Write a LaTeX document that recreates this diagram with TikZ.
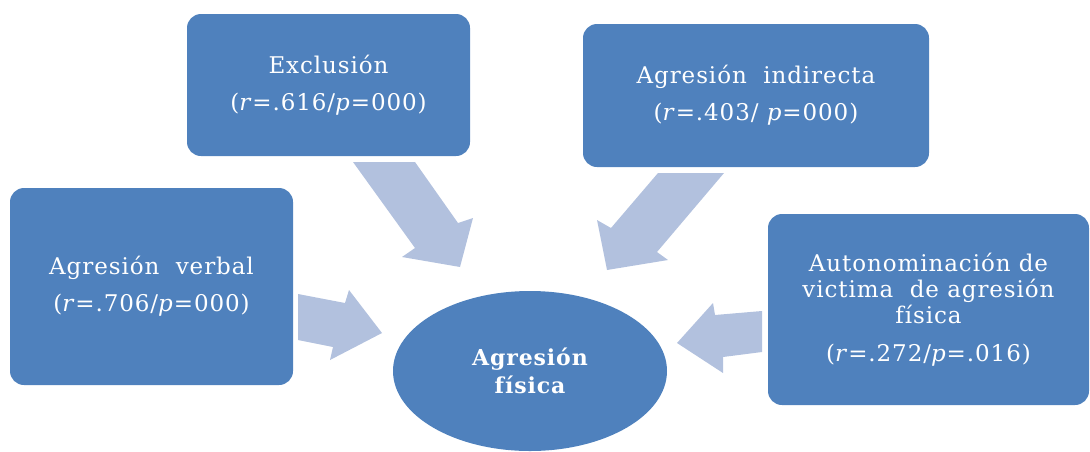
\documentclass[tikz,border=0pt]{standalone}
\usepackage{fontspec}
\usetikzlibrary{shapes.geometric}
\setmainfont{DejaVu Serif}
\newfontfamily\labfont[LetterSpace=4]{DejaVu Serif}
\definecolor{boxblue}{RGB}{79,129,189}
\definecolor{arrowblue}{RGB}{178,193,222}
\tikzset{
  box/.style={fill=boxblue, rounded corners=14pt, text=white, align=center, inner sep=0pt},
  blockarrow/.style={fill=arrowblue, draw=none},
}
\begin{document}
\begin{tikzpicture}[x=1pt,y=-1pt]
\useasboundingbox (0,0) rectangle (1090,451);
% block arrows
\fill[blockarrow] (353,162) -- (415,162) -- (458,223) -- (473,218) -- (460,267) -- (402,257) -- (415,248) -- cycle;
\fill[blockarrow] (658,173) -- (724,173) -- (657,252) -- (668,260) -- (607,270) -- (597,220) -- (611,228) -- cycle;
\fill[blockarrow] (762,311) -- (762,352) -- (723,357) -- (723,373) -- (677,343) -- (713,303) -- (715,315) -- cycle;
\fill[blockarrow] (298,294) -- (345,303) -- (349,290) -- (382,333) -- (330,360) -- (333,347) -- (298,340) -- cycle;
% boxes
\node[box, minimum width=283pt, minimum height=142pt, font=\labfont\fontsize{23}{37}\selectfont] (excl) at (328.5,85)
  {Exclusión\\(\textit{r}=.616/\textit{p}=000)};
\node[box, minimum width=346pt, minimum height=143pt, font=\labfont\fontsize{23}{37}\selectfont] (indir) at (756,95.5)
  {Agresión\ \ indirecta\\(\textit{r}=.403/ \textit{p}=000)};
\node[box, minimum width=283pt, minimum height=197pt, font=\labfont\fontsize{23}{37}\selectfont] (verbal) at (151.5,286.5)
  {Agresión\ \ verbal\\(\textit{r}=.706/\textit{p}=000)};
\node[box, minimum width=321pt, minimum height=191pt, font=\labfont\fontsize{23}{26}\selectfont] (auto) at (928.5,309.5)
  {Autonominación de\\victima\ \ de agresión\\física\\[12pt](\textit{r}=.272/\textit{p}=.016)};
\node[box, ellipse, minimum width=274pt, minimum height=160pt, font=\labfont\bfseries\fontsize{22}{28}\selectfont] (fis) at (530,371)
  {Agresión\\física};
\end{tikzpicture}
\end{document}
